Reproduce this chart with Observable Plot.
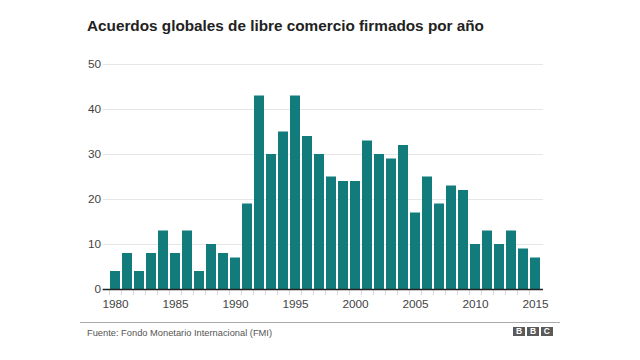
<!DOCTYPE html>
<html><head><meta charset="utf-8">
<script src="https://cdn.jsdelivr.net/npm/d3@7"></script>
<script src="https://cdn.jsdelivr.net/npm/@observablehq/plot@0.6"></script>
<style>
body{margin:0;background:#fff;font-family:Helvetica,"Liberation Sans",Arial,sans-serif;}
#wrap{position:relative;width:640px;height:360px;overflow:hidden;background:#fff;}
#title{position:absolute;left:87px;top:18.3px;font-size:15.3px;line-height:1;font-weight:bold;color:#222;white-space:nowrap;}
#chart{position:absolute;left:0;top:0;}
#hr{position:absolute;left:80px;top:322px;width:480px;height:1px;background:#aaa;}
#source{position:absolute;left:87px;top:329px;font-size:9.3px;line-height:1;color:#555;white-space:nowrap;}
#bbc{position:absolute;left:513px;top:327px;display:flex;gap:1.5px;}
#bbc span{display:block;width:12.3px;height:9px;background:#5a5a5a;color:#fff;font-size:8.5px;font-weight:bold;text-align:center;line-height:9px;}
</style></head>
<body>
<div id="wrap">
  <div id="chart"></div>
  <div id="title">Acuerdos globales de libre comercio firmados por año</div>
  <div id="hr"></div>
  <div id="source">Fuente: Fondo Monetario Internacional (FMI)</div>
  <div id="bbc"><span>B</span><span>B</span><span>C</span></div>
</div>
<script>
const years = [1980,1981,1982,1983,1984,1985,1986,1987,1988,1989,1990,1991,1992,1993,1994,1995,1996,1997,1998,1999,2000,2001,2002,2003,2004,2005,2006,2007,2008,2009,2010,2011,2012,2013,2014,2015];
const agreements = [4,8,4,8,13,8,13,4,10,8,7,19,43,30,35,43,34,30,25,24,24,33,30,29,32,17,25,19,23,22,10,13,10,13,9,7];
const yTicks = [0,10,20,30,40,50];
const xLabels = [1980,1985,1990,1995,2000,2005,2010,2015];

const data = years.map((y, i) => ({year: y, value: agreements[i]}));

const chart = Plot.plot({
  width: 640,
  height: 320,
  marginTop: 64,
  marginBottom: 31,
  marginLeft: 107.6,
  marginRight: 98,
  style: {fontFamily: 'Helvetica, "Liberation Sans", Arial, sans-serif', fontSize: "11.8px", color: "#444", background: "transparent"},
  x: {type: "band", domain: years, padding: 0.2},
  y: {domain: [0, 50]},
  marks: [
    Plot.ruleY(yTicks.filter(d => d > 0), {stroke: "#e6e6e6", strokeWidth: 1, insetLeft: -5, insetRight: -1}),
    Plot.axisY({ticks: yTicks, tickSize: 0, tickPadding: 7, label: null, fill: "#444"}),
    Plot.axisX({ticks: years, tickSize: 6, tickFormat: () => "", dx: -6, stroke: "#d8d8d8", label: null}),
    Plot.axisX({ticks: xLabels, tickSize: 0, tickPadding: 10, tickFormat: d => String(d), label: null, fill: "#444"}),
    Plot.barY(data, {x: "year", y: "value", fill: "#127c7c"}),
    Plot.ruleY([0], {stroke: "#222", strokeWidth: 1.5, insetLeft: -5, insetRight: -1})
  ]
});
document.getElementById("chart").appendChild(chart);
</script>
</body></html>
